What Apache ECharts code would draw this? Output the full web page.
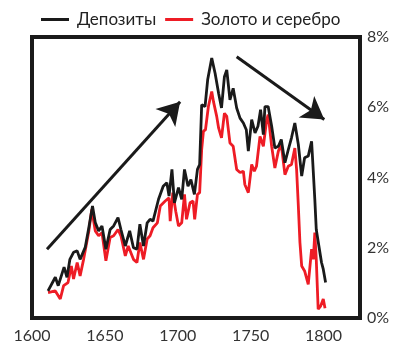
<!DOCTYPE html>
<html><head><meta charset="utf-8">
<script src="https://cdn.jsdelivr.net/npm/echarts@6/dist/echarts.min.js"></script>
<style>html,body{margin:0;padding:0;background:#fff}#c{width:399px;height:349px}</style>
</head><body><div id="c"></div>
<script>
const seriesNames = ['Депозиты', 'Золото и серебро'];
const yTicks = [0, 2, 4, 6, 8];
const xTicks = [1600, 1650, 1700, 1750, 1800];

const depYears = [1611,1616,1618,1622,1624,1626,1628.5,1631,1633,1636.5,1639,1641.5,1643.4,1645.7,1648,1650.7,1653.6,1656,1659,1661,1664,1667,1669.6,1672,1674,1676.5,1679,1681,1683,1686.8,1690,1692.5,1694,1696,1697.7,1700.5,1702.7,1704.6,1707,1709,1711.4,1713.5,1715,1716.4,1718.7,1720.5,1723.3,1725.6,1728,1730,1732,1733.6,1735.8,1738,1740.4,1742.7,1745,1747,1748.4,1750.7,1753,1755,1756.8,1758.7,1759.8,1762,1764.4,1766.6,1769,1771,1773.5,1775.8,1778,1780.3,1782.7,1785,1787,1789.5,1791.8,1793,1794,1795,1796.8,1798.6,1799.8,1801.4];
const depValues = [0.77,1.16,0.92,1.45,1.16,1.67,1.87,1.91,1.67,2.01,2.58,3.19,2.72,2.48,2.62,1.96,2.52,2.62,2.86,2.52,2.05,2.48,2.0,1.96,2.67,2.05,2.71,2.81,2.76,3.38,3.75,3.85,3.47,4.23,3.28,3.71,3.38,4.23,3.75,3.94,3.52,4.23,4.37,6.07,6.02,6.78,7.40,6.97,6.40,5.98,6.87,7.06,6.21,6.54,5.98,5.69,5.55,5.36,4.75,5.65,5.27,5.46,5.93,5.22,6.02,6.02,5.46,4.84,4.89,5.08,4.42,4.79,5.13,5.55,4.94,4.04,4.56,4.61,5.03,4.13,3.38,2.52,2.05,1.58,1.39,1.01];

const goldYears = [1611,1616,1619.4,1621.7,1624.7,1627,1628.5,1631,1633,1635.4,1639,1641,1643.4,1645.7,1648,1650.7,1653.6,1656,1659,1661,1664,1666,1669.6,1672,1674,1676.5,1679,1681,1683,1686,1688,1691.4,1694,1694.8,1696.6,1698.6,1700.5,1702.7,1704.6,1706,1708.4,1710.5,1711.6,1713.5,1715,1716.4,1717.6,1719,1721,1723.3,1724.5,1726.7,1728,1730,1732,1733.6,1735.8,1738,1740.4,1742.7,1745,1746,1748.4,1750.7,1752.5,1754,1756.4,1758.7,1761,1762,1764.4,1766.6,1769,1771,1773.5,1775.8,1778,1780.3,1781.5,1782.7,1783.8,1785,1787,1789.5,1791.8,1793,1794,1795,1796.3,1798,1799.8,1801];
const goldValues = [0.72,0.77,0.54,0.92,1.01,1.48,1.11,1.58,1.2,1.67,2.48,3.09,2.48,2.34,2.43,1.63,2.29,2.34,2.52,2.34,1.77,2.05,1.67,1.58,2.15,1.67,2.25,2.34,2.57,2.71,3.19,3.33,3.42,2.76,3.57,3.04,2.62,2.71,3.52,2.81,3.28,3.33,2.81,3.52,3.57,4.8,5.32,5.36,6.02,6.45,6.16,5.74,5.41,5.13,5.83,5.74,4.98,4.89,4.23,4.14,4.18,3.8,3.57,4.37,4.18,4.32,5.17,4.89,5.65,5.79,4.89,4.27,4.75,4.94,4.08,4.32,4.37,4.84,4.23,3.19,2.15,1.48,1.34,0.96,1.96,1.67,2.43,1.67,0.25,0.34,0.54,0.28];

const arrowUp = [[1610.3, 1.96], [1701.6, 6.16]];
const arrowDown = [[1740.4, 7.44], [1800.5, 5.65]];

const zip = (a, b) => a.map((v, i) => [v, b[i]]);
const FONT = 'Lato';

const chart = echarts.init(document.getElementById('c'), null, {renderer: 'canvas'});
chart.setOption({
  animation: false,
  backgroundColor: '#fff',
  textStyle: {fontFamily: FONT},
  legend: {
    top: 6, left: 36,
    itemWidth: 28, itemHeight: 3, itemGap: 9,
    icon: 'rect',
    textStyle: {fontFamily: FONT, fontSize: 17, color: '#222', padding: [0, 0, 0, 3]},
    data: seriesNames
  },
  grid: {left: 32, right: 39, top: 37, bottom: 31, show: true, borderColor: '#1a1a1a', borderWidth: 4, backgroundColor: 'transparent'},
  xAxis: {
    type: 'value', min: 1600, max: 1825, interval: 50,
    axisLine: {show: false}, axisTick: {show: false}, splitLine: {show: false},
    axisLabel: {fontFamily: FONT, fontSize: 16, color: '#333', margin: 10, showMaxLabel: false,
      formatter: v => xTicks.includes(v) ? String(v) : ''}
  },
  yAxis: {
    type: 'value', position: 'right', min: 0, max: 8, interval: 2,
    axisLine: {show: false}, axisTick: {show: false}, splitLine: {show: false},
    axisLabel: {fontFamily: FONT, fontSize: 16, color: '#333', margin: 7,
      formatter: v => yTicks.includes(v) ? v + '%' : ''}
  },
  series: [
    {
      name: seriesNames[0], type: 'line', data: zip(depYears, depValues),
      showSymbol: false, symbol: 'none', z: 3,
      lineStyle: {color: '#1a1a1a', width: 2.8}, itemStyle: {color: '#1a1a1a'},
      markLine: {
        silent: true, symbol: ['none', 'arrow'], symbolSize: [20, 22],
        label: {show: false},
        lineStyle: {color: '#1a1a1a', width: 3, type: 'solid'},
        data: [
          [{coord: arrowUp[0]}, {coord: arrowUp[1]}],
          [{coord: arrowDown[0]}, {coord: arrowDown[1]}]
        ]
      }
    },
    {
      name: seriesNames[1], type: 'line', data: zip(goldYears, goldValues),
      showSymbol: false, symbol: 'none', z: 2,
      lineStyle: {color: '#ee1c25', width: 2.8}, itemStyle: {color: '#ee1c25'}
    }
  ]
});
</script></body></html>
